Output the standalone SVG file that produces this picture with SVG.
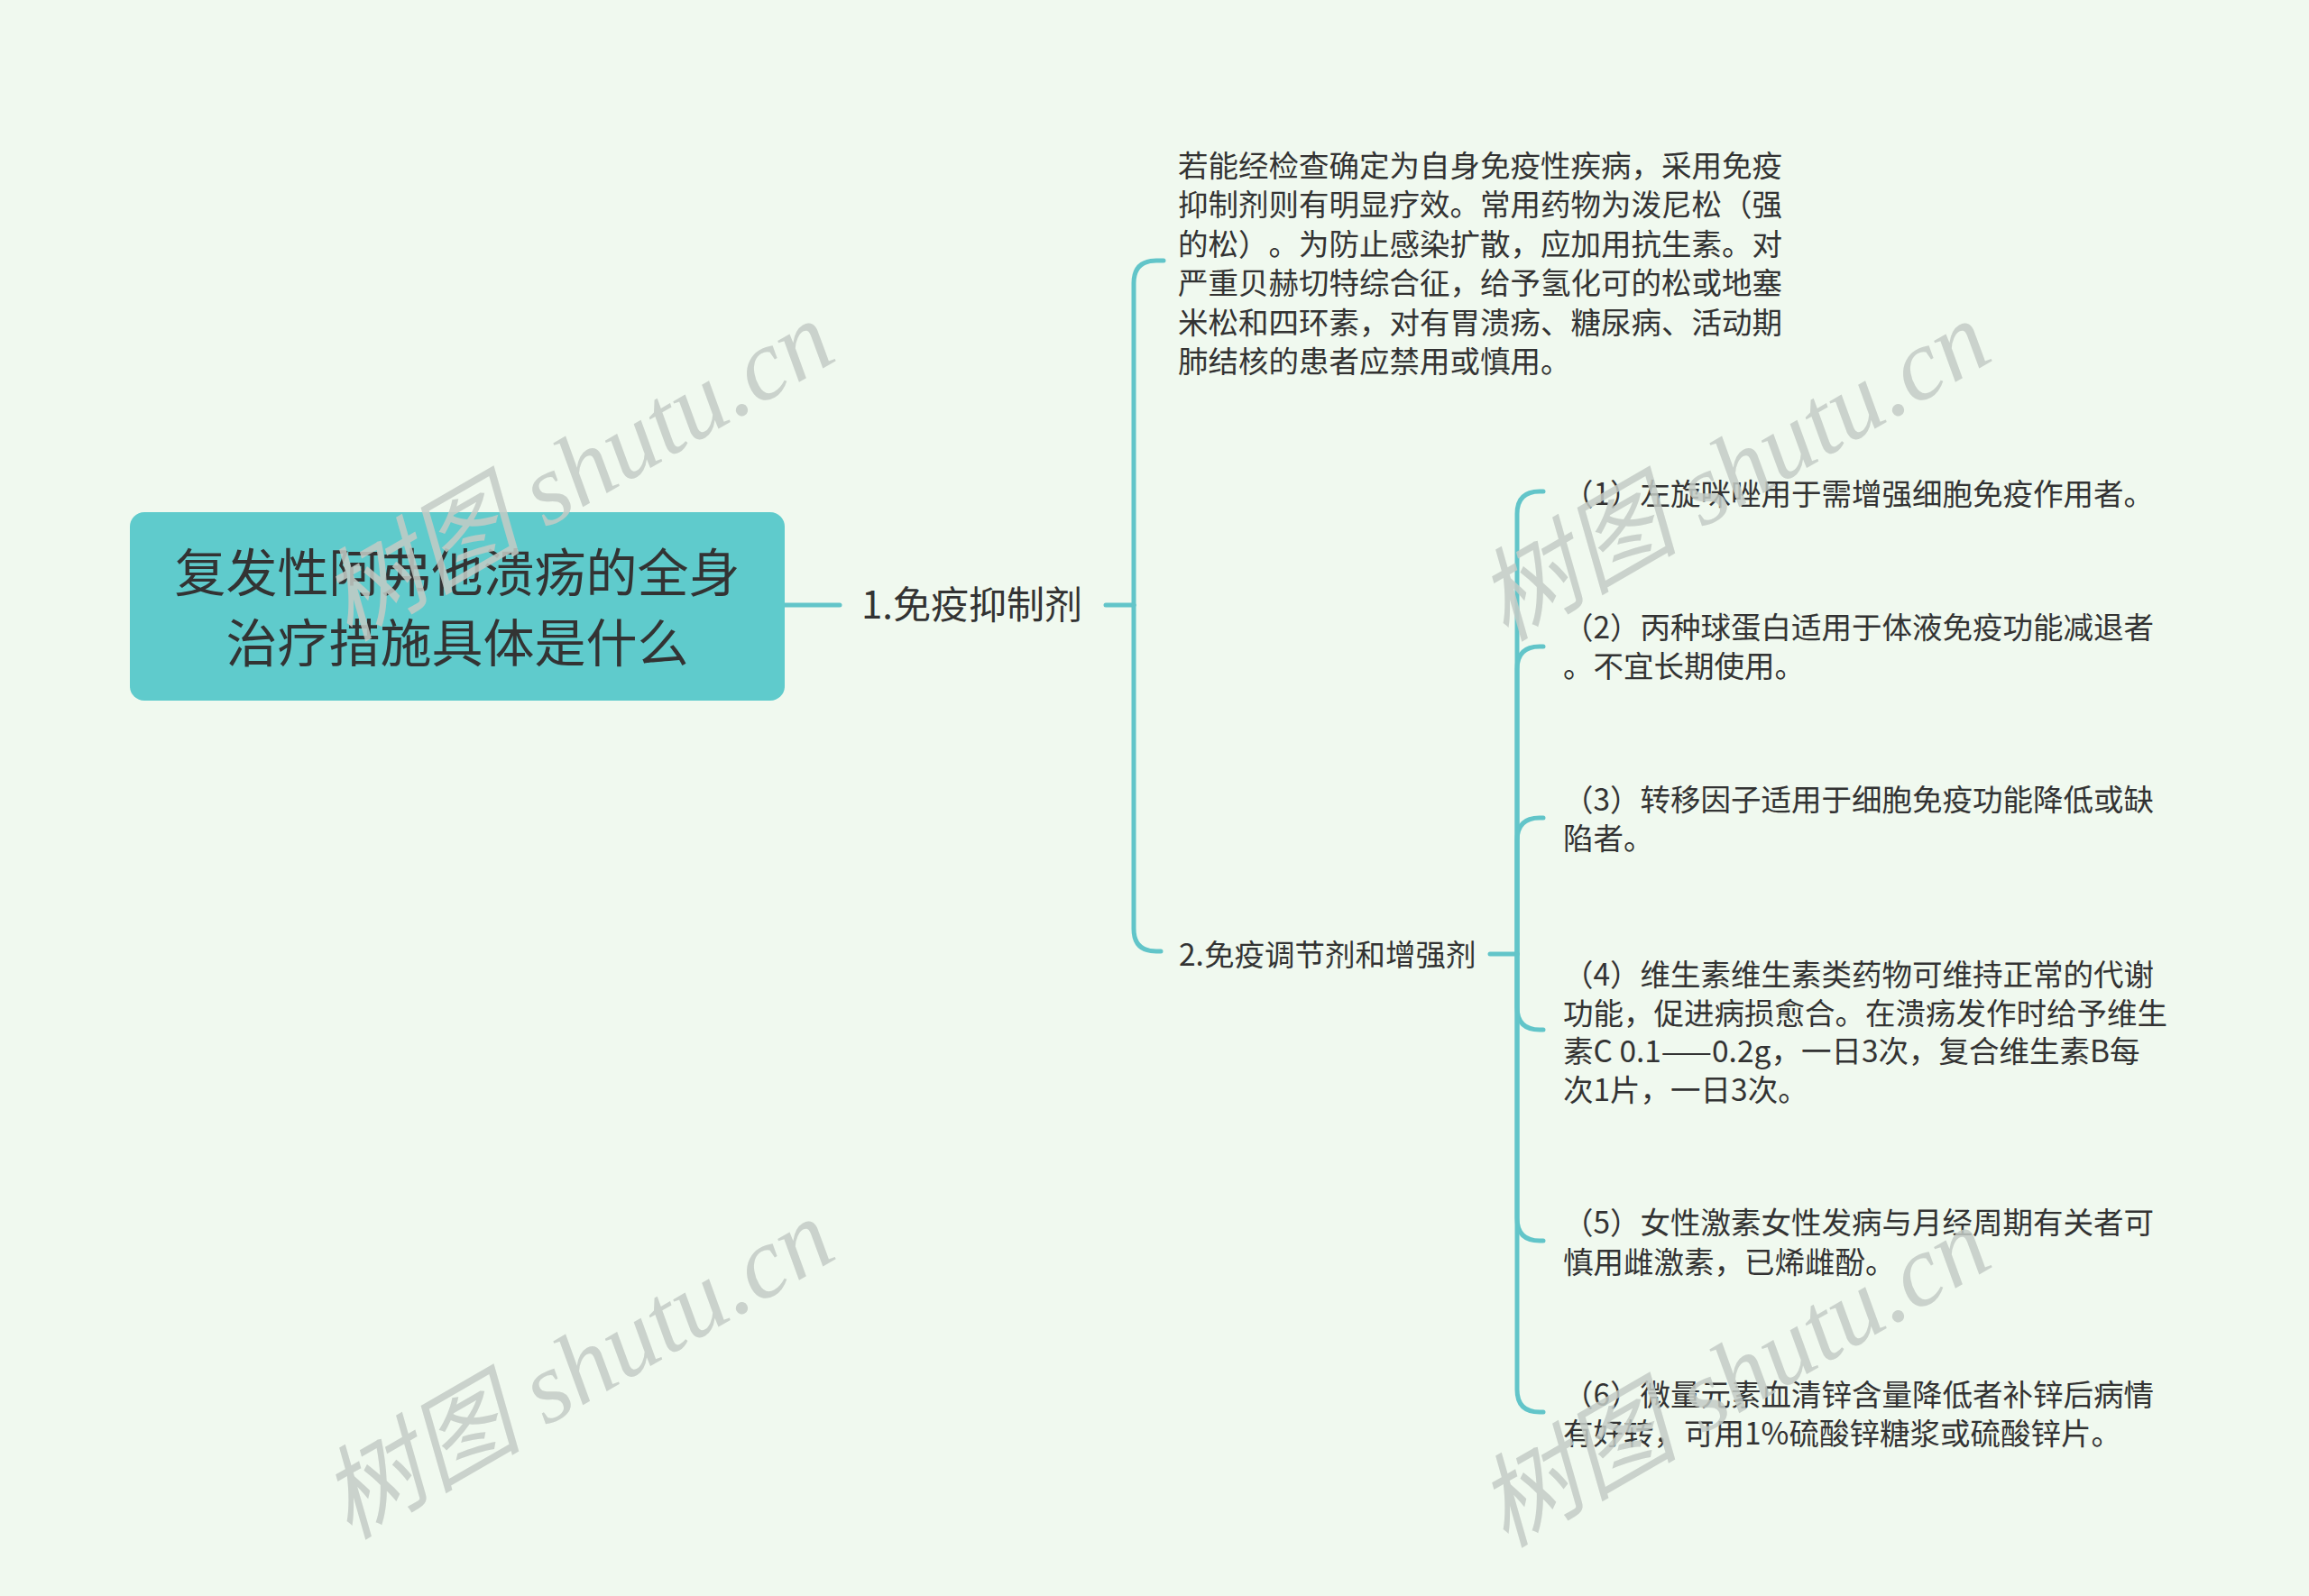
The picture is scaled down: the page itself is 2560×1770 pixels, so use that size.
<svg xmlns="http://www.w3.org/2000/svg" width="2560" height="1770" viewBox="0 0 2560 1770">
<style>
.t{font-family:"Noto Sans CJK SC","Noto Sans",sans-serif;fill:#333333;text-spacing-trim:space-all;}
.c{fill:none;stroke:#62C5C9;stroke-width:5;stroke-linecap:round;}
.wm{font-family:"Liberation Serif","Noto Sans CJK SC",serif;font-style:italic;font-size:112px;fill:#C4CCC6;opacity:0.85;}
</style>
<rect width="2560" height="1770" fill="#F0F9EF"/>
<g id="connectors">
<path class="c" d="M870,671 H931"/>
<path class="c" d="M1226,671 H1257"/>
<path class="c" d="M1257,671 V314 Q1257,289 1282,289 H1290"/>
<path class="c" d="M1257,671 V1030 Q1257,1055 1282,1055 H1287"/>
<path class="c" d="M1652,1058 H1682"/>
<path class="c" d="M1682,1058 V570 Q1682,545 1707,545 H1711"/>
<path class="c" d="M1682,1058 V742 Q1682,717 1707,717 H1711"/>
<path class="c" d="M1682,1058 V932 Q1682,907 1707,907 H1711"/>
<path class="c" d="M1682,1058 V1117 Q1682,1142 1707,1142 H1711"/>
<path class="c" d="M1682,1058 V1351 Q1682,1376 1707,1376 H1711"/>
<path class="c" d="M1682,1058 V1541 Q1682,1566 1707,1566 H1711"/>
</g>
<g id="root">
<rect x="144" y="568" width="726" height="209" rx="16" fill="#5FCBCC"/>
<text class="t" font-size="57" text-anchor="middle" x="507"><tspan x="507" y="656">复发性阿弗他溃疡的全身</tspan><tspan x="507" y="734">治疗措施具体是什么</tspan></text>
</g>
<g id="n1"><text class="t" font-size="42" x="955" y="686">1.免疫抑制剂</text></g>
<g id="n1a"><text class="t" font-size="33.5" x="1306"><tspan x="1306" y="196">若能经检查确定为自身免疫性疾病，采用免疫</tspan><tspan x="1306" y="239">抑制剂则有明显疗效。常用药物为泼尼松（强</tspan><tspan x="1306" y="283">的松）。为防止感染扩散，应加用抗生素。对</tspan><tspan x="1306" y="326">严重贝赫切特综合征，给予氢化可的松或地塞</tspan><tspan x="1306" y="370">米松和四环素，对有胃溃疡、糖尿病、活动期</tspan><tspan x="1306" y="413">肺结核的患者应禁用或慎用。</tspan></text></g>
<g id="n2"><text class="t" font-size="33.5" x="1307" y="1071">2.免疫调节剂和增强剂</text></g>
<g id="g1"><text class="t" font-size="33.5" x="1733" y="560">（1）左旋咪唑用于需增强细胞免疫作用者。</text></g>
<g id="g2"><text class="t" font-size="33.5"><tspan x="1733" y="708">（2）丙种球蛋白适用于体液免疫功能减退者</tspan><tspan x="1733" y="751">。不宜长期使用。</tspan></text></g>
<g id="g3"><text class="t" font-size="33.5"><tspan x="1733" y="899">（3）转移因子适用于细胞免疫功能降低或缺</tspan><tspan x="1733" y="942">陷者。</tspan></text></g>
<g id="g4"><text class="t" font-size="33.5"><tspan x="1733" y="1093">（4）维生素维生素类药物可维持正常的代谢</tspan><tspan x="1733" y="1136">功能，促进病损愈合。在溃疡发作时给予维生</tspan><tspan x="1733" y="1178">素C 0.1——0.2g，一日3次，复合维生素B每</tspan><tspan x="1733" y="1221">次1片，一日3次。</tspan></text></g>
<g id="g5"><text class="t" font-size="33.5"><tspan x="1733" y="1368">（5）女性激素女性发病与月经周期有关者可</tspan><tspan x="1733" y="1412">慎用雌激素，已烯雌酚。</tspan></text></g>
<g id="g6"><text class="t" font-size="33.5"><tspan x="1733" y="1559">（6）微量元素血清锌含量降低者补锌后病情</tspan><tspan x="1733" y="1602">有好转，可用1%硫酸锌糖浆或硫酸锌片。</tspan></text></g>
<g id="watermarks">
<text class="wm" x="640" y="522" text-anchor="middle" dominant-baseline="central" transform="rotate(-30 640 522)">树图 shutu.cn</text>
<text class="wm" x="1922" y="522" text-anchor="middle" dominant-baseline="central" transform="rotate(-30 1922 522)">树图 shutu.cn</text>
<text class="wm" x="640" y="1518" text-anchor="middle" dominant-baseline="central" transform="rotate(-30 640 1518)">树图 shutu.cn</text>
<text class="wm" x="1922" y="1527" text-anchor="middle" dominant-baseline="central" transform="rotate(-30 1922 1527)">树图 shutu.cn</text>
</g>
</svg>
